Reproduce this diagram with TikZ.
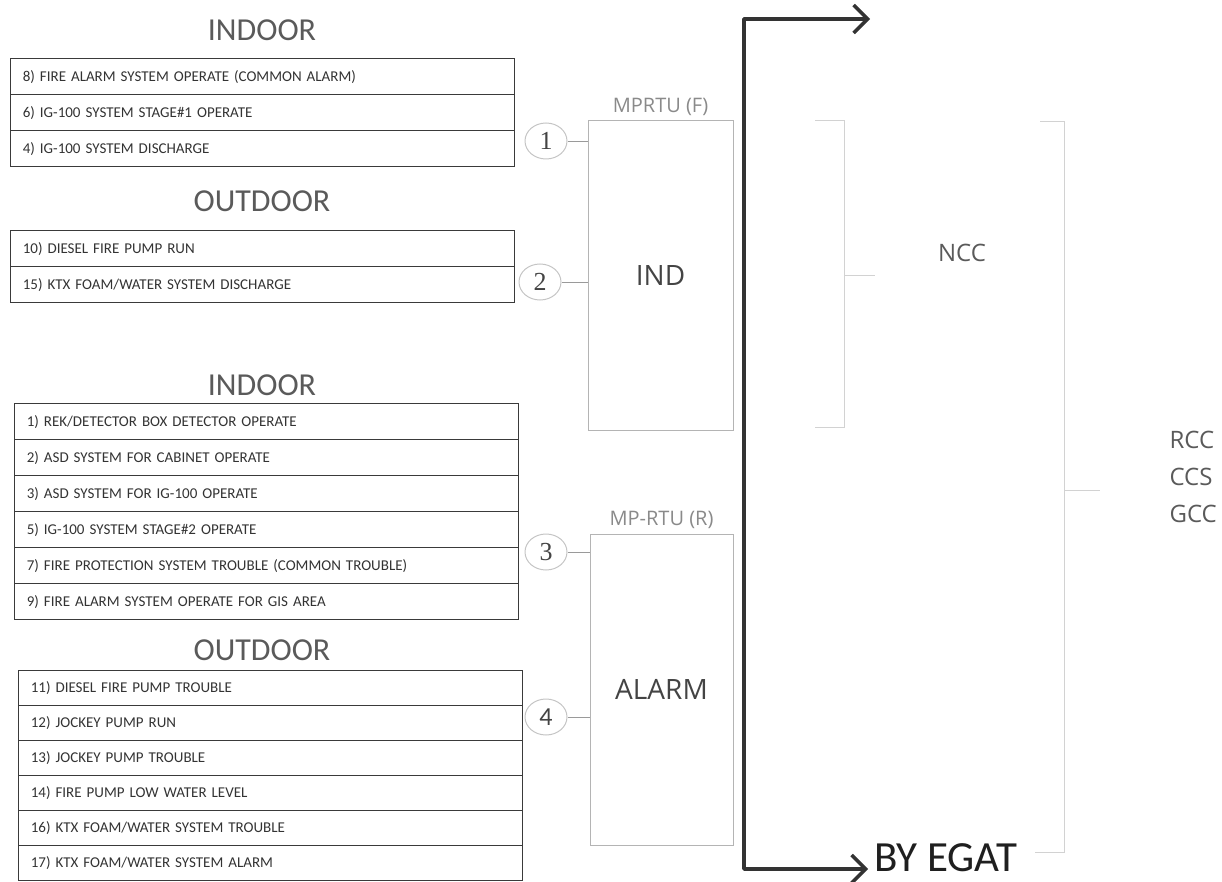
\documentclass[tikz,border=0pt]{standalone}
\usepackage{fontspec}
\setmainfont{Carlito}
\newfontfamily\labelfont{Open Sans}
\newfontfamily\numfont{Liberation Serif}
\usepackage{xcolor}
\usepackage{tikz}
\usetikzlibrary{matrix,arrows,arrows.meta,positioning,shapes.geometric}
\definecolor{rowline}{HTML}{3A3A3A}
\definecolor{itemtext}{HTML}{333333}
\definecolor{titlegray}{HTML}{5A5A5A}
\definecolor{tagline}{HTML}{C4C4C4}
\definecolor{wiregray}{HTML}{9A9A9A}
\definecolor{rtuline}{HTML}{B4B4B4}
\definecolor{rtutext}{HTML}{8A8A8A}
\definecolor{labeldark}{HTML}{444444}
\definecolor{bracegray}{HTML}{D2D2D2}
\definecolor{busgray}{HTML}{333333}
\tikzset{
  row/.style={draw=rowline, line width=1.2pt, text width=480pt, inner xsep=12pt,
    inner ysep=0pt, minimum height=36pt, align=left, text=itemtext,
    font=\fontsize{15}{17}\selectfont},
  list/.style={matrix of nodes, nodes={row}, row sep=-1.2pt, inner sep=0pt, anchor=north west},
  title/.style={text=titlegray, font=\fontsize{32}{34}\selectfont},
  tag/.style={ellipse, draw=tagline, line width=1pt, minimum width=42pt, minimum height=36pt,
    inner sep=0pt, text=labeldark},
  wire/.style={draw=wiregray, line width=0.8pt},
  rtu/.style={draw=rtuline, line width=1pt, minimum width=145pt, minimum height=309pt,
    text=labeldark, font=\labelfont\fontsize{28}{30}\selectfont},
  rtutitle/.style={text=rtutext, font=\labelfont\fontsize{20}{22}\selectfont},
  brace/.style={draw=bracegray, line width=1pt},
  side/.style={text=titlegray, font=\labelfont\fontsize{24}{26}\selectfont},
  bus/.style={draw=busgray, line width=3.5pt, line join=round,
    >={Straight Barb[length=14pt,width=28pt]}}
}
\begin{document}
\begin{tikzpicture}[x=1pt,y=-1pt]
\useasboundingbox (0,0) rectangle (1222,882);
% signals to MPRTU (F)
\node[title] (inF) at (262,30) {INDOOR};
\matrix (listA) [list] at (10,58)
{8) FIRE ALARM SYSTEM OPERATE (COMMON ALARM)\\
6) IG-100 SYSTEM STAGE\#1 OPERATE\\
4) IG-100 SYSTEM DISCHARGE\\};
\node[title] (outF) at (262,201) {OUTDOOR};
\matrix (listB) [list] at (10,230)
{10) DIESEL FIRE PUMP RUN\\
15) KTX FOAM/WATER SYSTEM DISCHARGE\\};
% signals to MP-RTU (R)
\node[title] (inR) at (262,385) {INDOOR};
\matrix (listC) [list] at (14,403)
{1) REK/DETECTOR BOX DETECTOR OPERATE\\
2) ASD SYSTEM FOR CABINET OPERATE\\
3) ASD SYSTEM FOR IG-100 OPERATE\\
5) IG-100 SYSTEM STAGE\#2 OPERATE\\
7) FIRE PROTECTION SYSTEM TROUBLE (COMMON TROUBLE)\\
9) FIRE ALARM SYSTEM OPERATE FOR GIS AREA\\};
\node[title] (outR) at (262,650) {OUTDOOR};
\matrix (listD) [list, nodes={minimum height=35pt}] at (18,670)
{11) DIESEL FIRE PUMP TROUBLE\\
12) JOCKEY PUMP RUN\\
13) JOCKEY PUMP TROUBLE\\
14) FIRE PUMP LOW WATER LEVEL\\
16) KTX FOAM/WATER SYSTEM TROUBLE\\
17) KTX FOAM/WATER SYSTEM ALARM\\};

% RTU boxes
\node[rtu] (ind) at (660.5,275.5) {IND};
\node[rtutitle, above=1pt of ind] (rtuF) {MPRTU (F)};
\node[rtu, minimum width=143pt, minimum height=311pt] (alarm) at (661.5,689.5) {ALARM};
\node[rtutitle, above=1pt of alarm] (rtuR) {MP-RTU (R)};

% numbered tags
\node[tag, font=\numfont\fontsize{26}{28}\selectfont] (t1) at (546,141) {1};
\node[tag, font=\numfont\fontsize{26}{28}\selectfont] (t2) at (540,282) {2};
\node[tag, font=\numfont\fontsize{26}{28}\selectfont] (t3) at (546,552) {3};
\node[tag, font=\fontsize{26}{28}\selectfont] (t4) at (546,717) {4};
\draw[wire] (t1) -- (t1 -| ind.west);
\draw[wire] (t2) -- (t2 -| ind.west);
\draw[wire] (t3) -- (t3 -| alarm.west);
\draw[wire] (t4) -- (t4 -| alarm.west);

% bus
\coordinate (busTop) at (744,19);
\coordinate (busBot) at (744,869);
\coordinate (toNCC) at (870,19);
\node[anchor=west, inner xsep=6pt, inner ysep=0pt, text=black!88,
  font=\fontsize{43}{45}\selectfont] (egat) at (868,858) {BY EGAT};
\draw[bus,<->] (toNCC) -- (busTop) -- (busBot) -- (egat.west |- busBot);

% braces
\draw[brace] (815,121) -- (844,121) -- (844,427) -- (815,427) (844,276) -- (875,276);
\node[side] (ncc) at (962,253) {NCC};
\draw[brace] (1040,122) -- (1064,122) -- (1064,852) -- (1035,852) (1064,490) -- (1100,490);
\node[side, anchor=west] (rcc) at (1166,440) {RCC};
\node[side, anchor=west] (ccs) at (1166,477) {CCS};
\node[side, anchor=west] (gcc) at (1166,514) {GCC};
\end{tikzpicture}
\end{document}
